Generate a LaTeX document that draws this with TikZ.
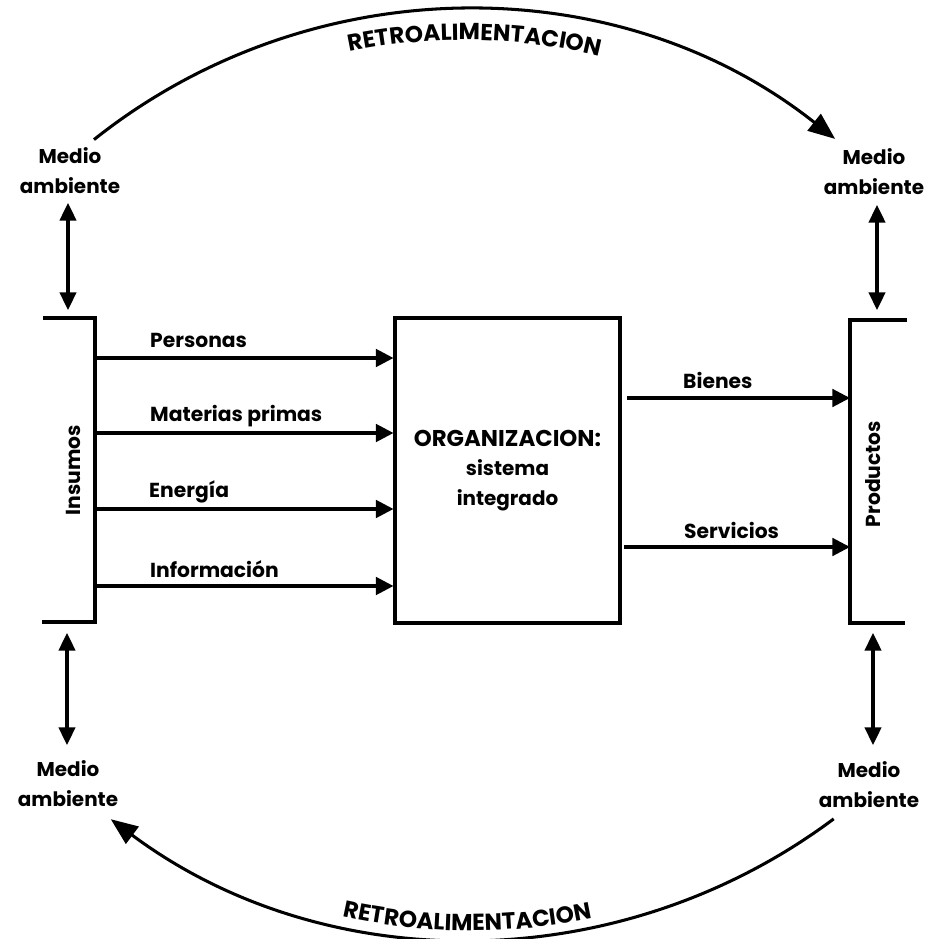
\documentclass[tikz,border=0pt]{standalone}
\usepackage{fontspec}
\setmainfont{Poppins}
\usetikzlibrary{arrows.meta,decorations.text}
\newcommand\arcfont{\fontsize{19.8}{22}\selectfont\bfseries}
\tikzset{
  ln/.style={line width=2.6pt},
  arr/.style={ln,-{Triangle[length=15pt,width=15pt]}},
  bigarr/.style={ln,-{Triangle[length=23pt,width=18pt]}},
  darr/.style={ln,{Triangle[length=15pt,width=14pt]}-{Triangle[length=15pt,width=14pt]}},
  lbl/.style={font=\fontsize{17.3}{19}\selectfont\bfseries,inner sep=0pt},
  env/.style={font=\fontsize{17}{25.5}\selectfont\bfseries,align=center,inner sep=0pt},
  bracket/.style={ln,line join=miter},
  arctext/.style={decorate,decoration={text along path,text align=center,text={|\arcfont|RETROALIMENTACION}}}
}
\begin{document}
\begin{tikzpicture}[x=0.03cm,y=0.03cm]
\useasboundingbox (0,0) rectangle (933,939);
% environment labels
\node[env] (mTL) at (70,768) {Medio\\ambiente};
\node[env] (mTR) at (874,767) {Medio\\ambiente};
\node[env] (mBL) at (68,155) {Medio\\ambiente};
\node[env] (mBR) at (869,154) {Medio\\ambiente};
% input bracket
\coordinate (inTopL) at (43,621);
\coordinate (inTop) at (95,621);
\coordinate (inBot) at (95,317);
\coordinate (inBotL) at (42,317);
\draw[bracket] (inTopL) -- (inTop) -- (inBot) -- (inBotL);
% output bracket
\coordinate (prTopR) at (907,619);
\coordinate (prTop) at (850,619);
\coordinate (prBot) at (850,316);
\coordinate (prBotR) at (905,316);
\draw[bracket] (prTopR) -- (prTop) -- (prBot) -- (prBotR);
\node[lbl,rotate=90] (ins) at (73,469) {Insumos};
\node[lbl,rotate=90] (prod) at (873,465) {Productos};
% organization box
\node[draw,ln,minimum width=6.75cm,minimum height=9.15cm,inner sep=0pt,align=center,font=\fontsize{17}{25}\selectfont\bfseries] (org) at (507.5,468.5) {{\fontsize{19.5}{25}\selectfont ORGANIZACION:}\\sistema\\integrado};
% inputs
\coordinate (iP) at (95,581);
\coordinate (iM) at (95,506);
\coordinate (iE) at (95,430);
\coordinate (iI) at (95,353);
\draw[arr] (iP) -- (iP -| org.west);
\draw[arr] (iM) -- (iM -| org.west);
\draw[arr] (iE) -- (iE -| org.west);
\draw[arr] (iI) -- (iI -| org.west);
\node[lbl,anchor=base west] (lP) at (150,591) {Personas};
\node[lbl,anchor=base west] (lM) at (150,517) {Materias primas};
\node[lbl,anchor=base west] (lE) at (149,441) {Energía};
\node[lbl,anchor=base west] (lI) at (150,361) {Información};
% outputs
\coordinate (oB) at (627,541);
\coordinate (oS) at (624,392);
\draw[arr] (oB) -- (oB -| prBot);
\draw[arr] (oS) -- (oS -| prBot);
\node[lbl,anchor=base west] (lB) at (683,550) {Bienes};
\node[lbl,anchor=base west] (lS) at (684,400) {Servicios};
% environment exchanges
\coordinate (dTLa) at (68,736); \coordinate (dTLb) at (68,629);
\coordinate (dTRa) at (877,734); \coordinate (dTRb) at (877,629);
\coordinate (dBLa) at (67,306); \coordinate (dBLb) at (67,194);
\coordinate (dBRa) at (873,306); \coordinate (dBRb) at (873,194);
\draw[darr] (dTLa) -- (dTLb);
\draw[darr] (dTRa) -- (dTRb);
\draw[darr] (dBLa) -- (dBLb);
\draw[darr] (dBRa) -- (dBRb);
% feedback arcs
\coordinate (fbTS) at (94,799.4);
\draw[bigarr] (fbTS) arc[start angle=128.5,end angle=51.6,radius=596];
\coordinate (fbTT) at (190.6,828.0);
\path[arctext] (fbTT) arc[start angle=119,end angle=59,radius=566];
\coordinate (fbBS) at (833.7,120.1);
\draw[bigarr] (fbBS) arc[start angle=-53.25,end angle=-126.7,radius=604.5];
\coordinate (fbBT) at (173.5,88.1);
\path[arctext] (fbBT) arc[start angle=-120,end angle=-60.8,radius=596];
\end{tikzpicture}
\end{document}
